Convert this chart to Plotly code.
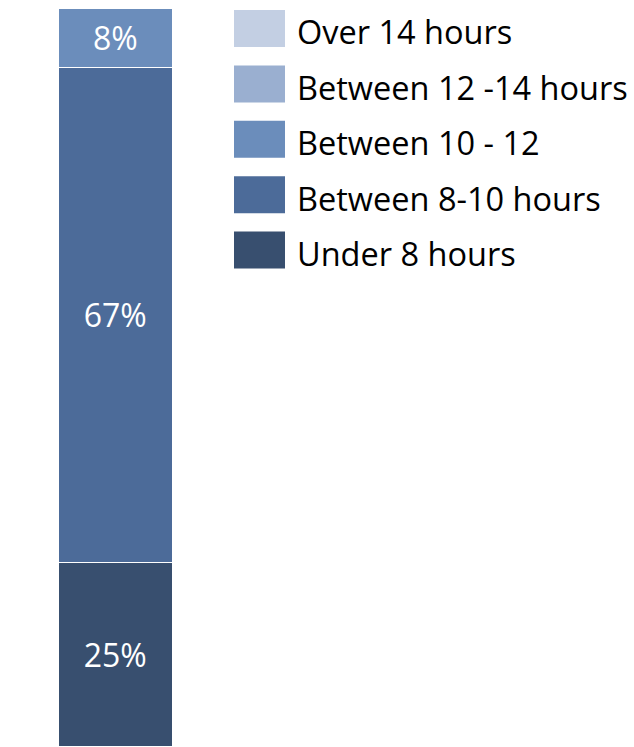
import plotly.graph_objects as go

# Share of respondents by hours worked per day
categories = ["Over 14 hours", "Between 12 -14 hours", "Between 10 - 12",
              "Between 8-10 hours", "Under 8 hours"]
shares = [0, 0, 8, 67, 25]
colors = ["#c3cfe3", "#9aafd0", "#6b8dbb", "#4c6b99", "#384f6f"]

W, H = 634, 747
FONT = "Open Sans"

fig = go.Figure()

# Stack from the bottom: "Under 8 hours" first
for name, val, col in reversed(list(zip(categories, shares, colors))):
    fig.add_trace(go.Bar(
        x=["All"], y=[val], name=name,
        marker=dict(color=col, line=dict(color="white", width=1.5)),
        text=[f"{val}%" if val > 0 else ""],
        textposition="inside", insidetextanchor="middle", textangle=0,
        textfont=dict(color="white", size=32, family=FONT),
        showlegend=False,
    ))

# Legend drawn as swatches plus labels
row_y0 = 28.5
row_step = 55.4
sw_x0, sw_x1, sw_h = 234, 285, 37
text_x = 295
shapes, annotations = [], []
for i, (name, col) in enumerate(zip(categories, colors)):
    cy = row_y0 + i * row_step
    shapes.append(dict(type="rect", xref="paper", yref="paper",
                       x0=sw_x0 / W, x1=sw_x1 / W,
                       y0=1 - (cy + sw_h / 2) / H, y1=1 - (cy - sw_h / 2) / H,
                       fillcolor=col, line=dict(width=0)))
    annotations.append(dict(xref="paper", yref="paper", x=text_x / W, y=1 - (cy + 3.5) / H,
                            xanchor="left", yanchor="middle", showarrow=False,
                            text=name, font=dict(size=32.5, color="black", family=FONT)))

fig.update_layout(
    width=W, height=H, margin=dict(l=0, r=0, t=0, b=0),
    barmode="stack", bargap=0,
    plot_bgcolor="white", paper_bgcolor="white",
    xaxis=dict(domain=[59 / W, 173 / W], range=[-0.5, 0.5], visible=False),
    yaxis=dict(domain=[0, 1 - 9 / H], range=[0, 100], visible=False),
    shapes=shapes, annotations=annotations,
)

fig.write_html("out.html")
